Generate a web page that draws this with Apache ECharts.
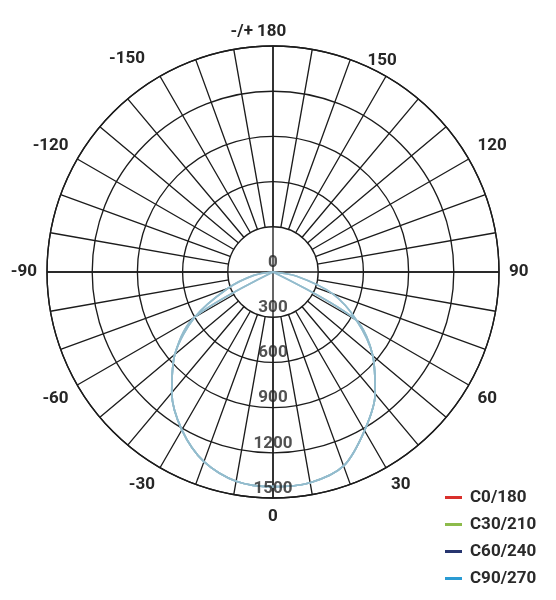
<!DOCTYPE html>
<html><head><meta charset="utf-8">
<script src="https://cdn.jsdelivr.net/npm/echarts@6/dist/echarts.min.js"></script>
<style>html,body{margin:0;padding:0;background:#fff}#c{width:556px;height:600px}</style>
</head><body><div id="c"></div>
<script>
// gamma angles (deg from nadir), negative = left half
const angles   = [-90,-80,-70,-60,-50,-40,-30,-20,-10,0,10,20,30,40,50,60,70,80,90];
const c0_180   = [0,0,0,600,850,1045,1210,1340,1410,1425,1420,1370,1215,1055,865,630,0,0,0];
const c30_210  = [0,0,0,600,850,1045,1210,1340,1410,1425,1420,1370,1215,1055,865,630,0,0,0];
const c60_240  = [0,130,320,600,850,1045,1210,1340,1410,1425,1420,1370,1215,1055,865,640,420,160,0];
const c90_270  = [0,130,320,600,850,1045,1210,1340,1410,1425,1420,1370,1215,1055,865,640,420,160,0];
const seriesNames = ['C0/180','C30/210','C60/240','C90/270'];
const legendColors = ['#d9302c','#8dbb4b','#27356f','#2a9bd3'];
const radiusTicks = [0,300,600,900,1200,1500];
const angleLabelMap = {'-180':'-/+ 180','-150':'-150','-120':'-120','-90':'-90','-60':'-60','-30':'-30','0':'0','30':'30','60':'60','90':'90','120':'120','150':'150'};

const FONT = 'Roboto';
const GRID = {color:'#1c1c1c', width:1.35};
const CURVE = '#93bccd';
const CX = 273, CY = 272, R = 226;

const seriesData = [c0_180, c30_210, c60_240, c90_270];
const lineSeries = seriesNames.map((n, i) => ({
  name: n, type: 'line', coordinateSystem: 'polar', polarIndex: 1,
  symbol: 'none', smooth: 0.3, z: 3 + i,
  itemStyle: {color: legendColors[i]},
  lineStyle: {color: CURVE, width: 1.7},
  data: angles.map((a, k) => [seriesData[i][k], a])
}));

const labelStyle = {fontFamily: FONT, fontSize: 17, fontWeight: 'bold', color: '#262626'};

const chart = echarts.init(document.getElementById('c'), null, {renderer: 'canvas'});
chart.setOption({
  backgroundColor: '#fff',
  animation: false,
  polar: [
    {center: [CX, CY], radius: [45, R]},
    {center: [CX, CY], radius: [0, R]},
    {center: [CX - 22.5, CY], radius: [0, R]}
  ],
  angleAxis: [
    { polarIndex: 0, type: 'value', min: -180, max: 180, interval: 30, startAngle: 90, clockwise: false,
      axisLine: {show: false}, axisTick: {show: false}, minorTick: {show: false, splitNumber: 3},
      splitLine: {show: true, lineStyle: GRID},
      minorSplitLine: {show: true, lineStyle: GRID},
      axisLabel: Object.assign({}, labelStyle, {margin: 10,
        formatter: v => {
          if (v === -180) return '{c|' + angleLabelMap['-180'] + '}';
          if (v === 180 || v === 150) return '';
          if (v === -150) return '{l|' + angleLabelMap['-150'] + '}';
          return angleLabelMap[String(v)] || '';
        },
        rich: {
          c: Object.assign({}, labelStyle, {padding: [0, 29, -4, 0]}),
          l: Object.assign({}, labelStyle, {padding: [0, 10, 0, 0]})
        }
      })
    },
    { polarIndex: 1, type: 'value', min: -180, max: 180, interval: 90, startAngle: 90, clockwise: false,
      axisLine: {show: true, lineStyle: GRID}, axisTick: {show: false}, axisLabel: {show: false},
      splitLine: {show: true, lineStyle: GRID}
    },
    { polarIndex: 2, type: 'value', min: -180, max: 180, interval: 30, startAngle: 90, clockwise: false,
      axisLine: {show: false}, axisTick: {show: false}, splitLine: {show: false},
      axisLabel: Object.assign({}, labelStyle, {margin: 8,
        formatter: v => (v === 150 ? angleLabelMap['150'] : '')})
    }
  ],
  radiusAxis: [
    {polarIndex: 0, min: 0, max: 1500, show: false},
    {polarIndex: 1, min: 0, max: 1500, interval: 300,
      axisLine: {show: false}, axisTick: {show: false}, axisLabel: {show: false},
      splitLine: {show: true, lineStyle: GRID}},
    {polarIndex: 2, min: 0, max: 1500, show: false}
  ],
  legend: {
    orient: 'vertical', left: 440, top: 484,
    icon: 'rect', itemWidth: 17, itemHeight: 3, itemGap: 10,
    textStyle: {fontFamily: FONT, fontSize: 17, fontWeight: 'bold', color: '#2a2a2a', lineHeight: 17, padding: [0, 0, 0, 3]},
    data: seriesNames.map((n, i) => ({name: n, itemStyle: {color: legendColors[i]}}))
  },
  series: lineSeries.concat([{
    type: 'scatter', coordinateSystem: 'polar', polarIndex: 1, symbolSize: 0, silent: true, z: 10,
    data: radiusTicks.map(r => [r, 0]),
    label: Object.assign({}, labelStyle, {show: true, position: 'top', distance: 1,
      formatter: p => String(p.value[0])})
  }])
});
</script></body></html>
